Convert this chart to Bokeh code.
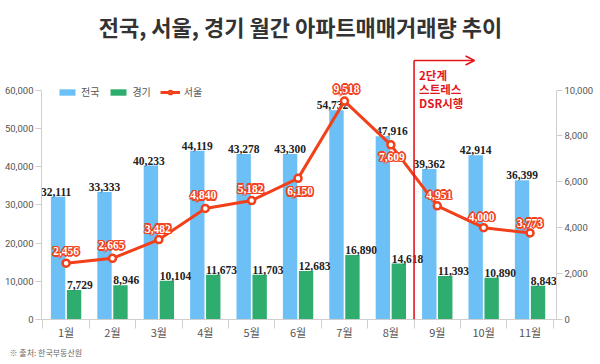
from bokeh.plotting import figure
from bokeh.models import (Range1d, LinearAxis, FixedTicker, ColumnDataSource, Label, Title,
                          Legend, LegendItem, Arrow, OpenHead, NumeralTickFormatter)
from bokeh.core.properties import value
from bokeh.transform import dodge
from bokeh.embed import file_html
from bokeh.resources import INLINE

# ---------------- data ----------------
months = ["1월", "2월", "3월", "4월", "5월", "6월", "7월", "8월", "9월", "10월", "11월"]
national = [32111, 33333, 40233, 44119, 43278, 43300, 54732, 47916, 39362, 42914, 36399]
gyeonggi = [7729, 8946, 10104, 11673, 11703, 12683, 16890, 14618, 11393, 10890, 8843]
seoul = [2456, 2665, 3482, 4840, 5182, 6150, 9518, 7609, 4951, 4000, 3773]
left_ticks = [0, 10000, 20000, 30000, 40000, 50000, 60000]
right_ticks = [0, 2000, 4000, 6000, 8000, 10000]
series_names = ["전국", "경기", "서울"]
title_text = "전국, 서울, 경기 월간 아파트매매거래량 추이"
policy_text = ["2단계", "스트레스", "DSR시행"]
source_text = "※ 출처: 한국부동산원"

# ---------------- layout / style ----------------
W, H = 600, 364
BL, BR, BT, BB = 41, 44, 0, 45
frame_w = W - BL - BR
frame_h = H - BT - BB
X0, X1 = -0.53, 10.57
PXU = frame_w / (X1 - X0)          # px per category
PYU = 229.5 / 60000                # px per left-axis unit
Y_END = frame_h / PYU
R_END = Y_END / 6

BLUE = "#6cc0f5"
GREEN = "#2fad6e"
RED = "#f2401a"
ANN = "#e3161e"
AXC = "#cfcfcf"
LBL = "#555555"
KR = "Noto Sans CJK KR"
NUM = "Liberation Sans Narrow"

def dx(px):
    return X0 + (px - BL) / PXU

def dy(py):
    return (H - BB - py) / PYU

seoul_dy = [-12, -13, -11, -13, -12, 13, -12, 12, -11, -11, -10]
seoul_dx = [0, -1, -1, -2, -1, 2, 2, 1, 2, -2, 0]
nat_dx = [-2, 0, -2, 0, 0, 0, -4, 9, 0, 0, 0]
halo = [(-1.6, 0), (1.6, 0), (0, -1.6), (0, 1.6),
        (-1.15, -1.15), (1.15, -1.15), (-1.15, 1.15), (1.15, 1.15)]

cols = dict(
    x=list(range(len(months))),
    national=national, gyeonggi=gyeonggi, seoul=seoul,
    nat_lbl=[f"{v:,}" for v in national],
    gg_lbl=[f"{v:,}" for v in gyeonggi],
    se_lbl=[f"{v:,}" for v in seoul],
    sdy=seoul_dy, sdx=seoul_dx, ndx=nat_dx,
)
for k, (ox, oy) in enumerate(halo):
    cols[f"hx{k}"] = [d + ox for d in seoul_dx]
    cols[f"hy{k}"] = [d + oy for d in seoul_dy]
src = ColumnDataSource(cols)

p = figure(width=W, height=H, output_backend="svg", toolbar_location=None,
           x_range=Range1d(X0, X1), y_range=Range1d(0, Y_END),
           min_border_left=BL, min_border_right=BR, min_border_top=BT,
           min_border_bottom=BB, title_location=None)
p.outline_line_color = None
p.grid.visible = False
p.background_fill_color = "white"
p.extra_y_ranges = {"seoul": Range1d(0, R_END)}

BW = 0.31
OFF = 0.172
nat = p.vbar(x=dodge("x", -OFF), top="national", width=BW, source=src,
             fill_color=BLUE, line_color=None)
gg = p.vbar(x=dodge("x", OFF), top="gyeonggi", width=BW, source=src,
            fill_color=GREEN, line_color=None)

p.text(x=dodge("x", -OFF), y="national", text="nat_lbl", source=src,
       x_offset="ndx", text_align="center", text_baseline="bottom", y_offset=-1,
       text_font=value(NUM), text_font_size="11.5px", text_font_style="bold",
       text_color="#222222")
p.text(x=dodge("x", OFF - BW / 2), y="gyeonggi", text="gg_lbl", source=src,
       text_align="left", text_baseline="bottom", y_offset=-1,
       text_font=value(NUM), text_font_size="11.5px", text_font_style="bold",
       text_color="#222222")

# policy marker
p.add_layout(Arrow(end=None, x_start=7.5, y_start=0, x_end=7.5, y_end=dy(60),
                   line_color=ANN, line_width=1.6))
p.add_layout(Arrow(end=OpenHead(size=9, line_color=ANN, line_width=1.6),
                   x_start=7.5, y_start=dy(60), x_end=dx(474), y_end=dy(60),
                   line_color=ANN, line_width=1.6))
for i, t in enumerate(policy_text):
    p.add_layout(Label(x=7.5, y=dy(74 + i * 14), text=t, x_offset=5,
                       text_align="left", text_baseline="middle",
                       text_font=KR, text_font_size="11.5px", text_font_style="bold",
                       text_color=ANN))

se_line = p.line(x="x", y="seoul", source=src, y_range_name="seoul",
                 line_color=RED, line_width=3)
se_pts = p.scatter(x="x", y="seoul", source=src, y_range_name="seoul", size=7,
                   fill_color="white", line_color=RED, line_width=2.5)
# red halo made of shifted copies, then white text on top
for k in range(len(halo)):
    p.text(x="x", y="seoul", text="se_lbl", source=src, y_range_name="seoul",
           x_offset=f"hx{k}", y_offset=f"hy{k}", text_align="center",
           text_baseline="middle", text_font=value(NUM), text_font_size="11.5px",
           text_font_style="bold", text_color=RED)
p.text(x="x", y="seoul", text="se_lbl", source=src, y_range_name="seoul",
       x_offset="sdx", y_offset="sdy", text_align="center", text_baseline="middle",
       text_font=value(NUM), text_font_size="11.5px", text_font_style="bold",
       text_color="white")

# axes
ya = p.yaxis[0]
ya.ticker = FixedTicker(ticks=left_ticks)
ya.formatter = NumeralTickFormatter(format="0,0")
ya.bounds = (0, 60000)

ra = LinearAxis(y_range_name="seoul", ticker=FixedTicker(ticks=right_ticks),
                formatter=NumeralTickFormatter(format="0,0"), bounds=(0, 10000))
p.add_layout(ra, "right")
for ax in (ya, ra):
    ax.axis_line_color = AXC
    ax.major_tick_line_color = AXC
    ax.major_tick_out = 6
    ax.major_tick_in = 0
    ax.minor_tick_line_color = None
    ax.major_label_text_color = LBL
    ax.major_label_text_font = "Roboto"
    ax.major_label_text_font_size = "9.5px"
    ax.major_label_standoff = 2

xa = p.xaxis[0]
xa.ticker = FixedTicker(ticks=list(range(len(months))),
                        minor_ticks=[i - 0.5 for i in range(len(months) + 1)])
xa.major_label_overrides = {i: m for i, m in enumerate(months)}
xa.axis_line_color = AXC
xa.major_tick_line_color = None
xa.major_tick_out = 0
xa.major_tick_in = 0
xa.minor_tick_line_color = AXC
xa.minor_tick_out = 9
xa.minor_tick_in = 0
xa.major_label_standoff = -5
xa.major_label_text_color = LBL
xa.major_label_text_font = KR
xa.major_label_text_font_size = "11px"

legend = Legend(items=[LegendItem(label=series_names[0], renderers=[nat]),
                       LegendItem(label=series_names[1], renderers=[gg]),
                       LegendItem(label=series_names[2], renderers=[se_line, se_pts])],
                orientation="horizontal", location=(16, 220),
                glyph_width=20, glyph_height=8, label_height=10, label_width=10,
                label_standoff=4, spacing=9, padding=0, margin=0,
                background_fill_alpha=0, border_line_color=None,
                label_text_font=KR, label_text_font_size="10px", label_text_color=LBL)
p.add_layout(legend)

p.add_layout(Label(x=dx(300), y=dy(25), text=title_text, text_align="center",
                   text_baseline="middle", text_font=KR, text_font_size="22px",
                   text_font_style="bold", text_color="#333333"))
p.add_layout(Title(text=source_text, align="left", offset=-(BL - 9), standoff=4,
                   text_font=KR, text_font_size="8px", text_font_style="normal",
                   text_color="#666666"), "below")

open("out.html", "w").write(file_html(p, INLINE))
